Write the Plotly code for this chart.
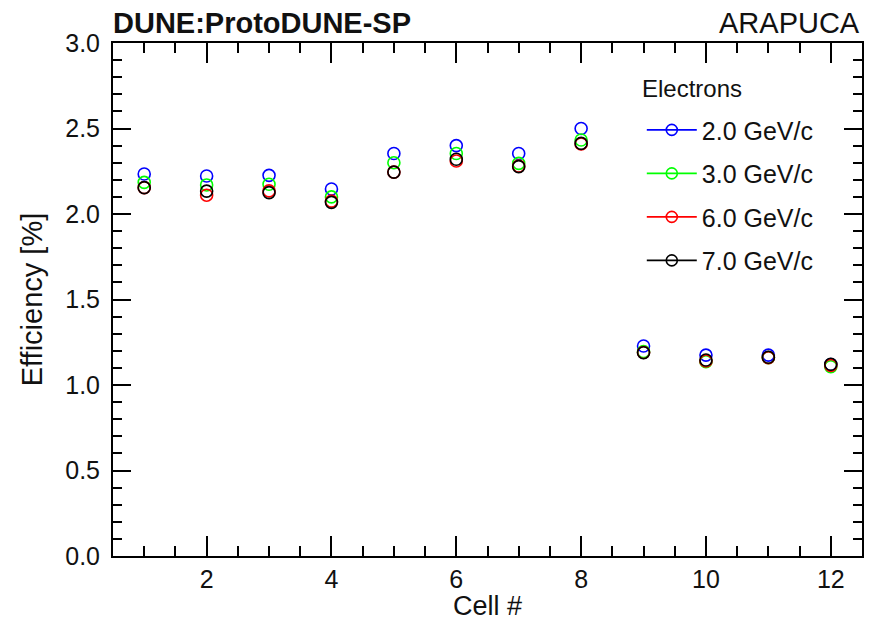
import plotly.graph_objects as go

cells = [1, 2, 3, 4, 5, 6, 7, 8, 9, 10, 11, 12]
eff_2gev = [2.234, 2.222, 2.226, 2.146, 2.354, 2.400, 2.354, 2.500, 1.228, 1.175, 1.175, 1.120]
eff_3gev = [2.185, 2.170, 2.174, 2.100, 2.300, 2.354, 2.296, 2.433, 1.195, 1.136, 1.160, 1.107]
eff_6gev = [2.154, 2.110, 2.135, 2.075, 2.245, 2.310, 2.280, 2.410, 1.190, 1.140, 1.160, 1.115]
eff_7gev = [2.154, 2.134, 2.125, 2.068, 2.245, 2.320, 2.277, 2.413, 1.189, 1.146, 1.162, 1.121]

series = [
    ("2.0 GeV/c", eff_2gev, "#0000ff"),
    ("3.0 GeV/c", eff_3gev, "#00ff00"),
    ("6.0 GeV/c", eff_6gev, "#ff0000"),
    ("7.0 GeV/c", eff_7gev, "#000000"),
]

FONT = "Liberation Sans, Arial, sans-serif"

fig = go.Figure()
for name, vals, col in series:
    fig.add_trace(go.Scatter(
        x=cells, y=vals, mode="markers", name=name, showlegend=False,
        marker=dict(symbol="circle-open", size=12, color=col, line=dict(width=1.6, color=col)),
    ))
for name, vals, col in series:
    fig.add_trace(go.Scatter(
        x=[None], y=[None], mode="lines+markers", name=name, legendgroup=name,
        line=dict(color=col, width=1.6),
        marker=dict(symbol="circle-open", size=11, color=col, line=dict(width=1.6, color=col)),
    ))

axis_common = dict(
    showline=True, linecolor="black", linewidth=2, mirror="ticks",
    ticks="inside", tickcolor="black", tickwidth=1.5,
    showgrid=False, zeroline=False, automargin=False,
    tickfont=dict(family=FONT, size=25, color="#111"),
)

fig.update_xaxes(
    range=[0.5, 12.5], dtick=2, tick0=0, ticklen=20,
    minor=dict(ticks="inside", dtick=0.5, tick0=0, ticklen=10, tickcolor="black", tickwidth=1.5),
    **axis_common,
)
fig.update_yaxes(
    range=[0, 3.0], dtick=0.5, tick0=0, ticklen=18, tickformat=".1f",
    minor=dict(ticks="inside", dtick=0.1, tick0=0, ticklen=9, tickcolor="black", tickwidth=1.5),
    title=dict(text="Efficiency [%]", font=dict(family=FONT, size=29, color="#111"), standoff=14),
    ticklabelstandoff=6,
    **axis_common,
)

fig.update_layout(
    width=875, height=620, autosize=False,
    margin=dict(l=113, r=13, t=43, b=64),
    paper_bgcolor="white", plot_bgcolor="white",
    font=dict(family=FONT, color="#111"),
    legend=dict(
        x=0.706, y=0.875, xanchor="left", yanchor="top",
        bgcolor="rgba(0,0,0,0)", borderwidth=0,
        font=dict(family=FONT, size=25),
        tracegroupgap=8, itemwidth=50,
    ),
    annotations=[
        dict(text="<b>DUNE:ProtoDUNE-SP</b>", x=0, y=1.0, xref="paper", yref="paper",
             xanchor="left", yanchor="bottom", yshift=2, xshift=-2, showarrow=False,
             font=dict(family=FONT, size=29, color="#111")),
        dict(text="ARAPUCA", x=1, y=1.0, xref="paper", yref="paper",
             xanchor="right", yanchor="bottom", yshift=2, showarrow=False,
             font=dict(family=FONT, size=29, color="#111")),
        dict(text="Electrons", x=0.7036, y=0.912, xref="paper", yref="paper",
             xanchor="left", yanchor="middle", showarrow=False,
             font=dict(family=FONT, size=24, color="#111")),
        dict(text="Cell #", x=0.5, y=0, xref="paper", yref="paper",
             xanchor="center", yanchor="middle", yshift=-50, showarrow=False,
             font=dict(family=FONT, size=27, color="#111")),
    ],
)

fig.write_html(
    "out.html",
    config={"displayModeBar": False},
    post_script="document.body.style.margin='0';document.body.style.overflow='hidden';",
)
